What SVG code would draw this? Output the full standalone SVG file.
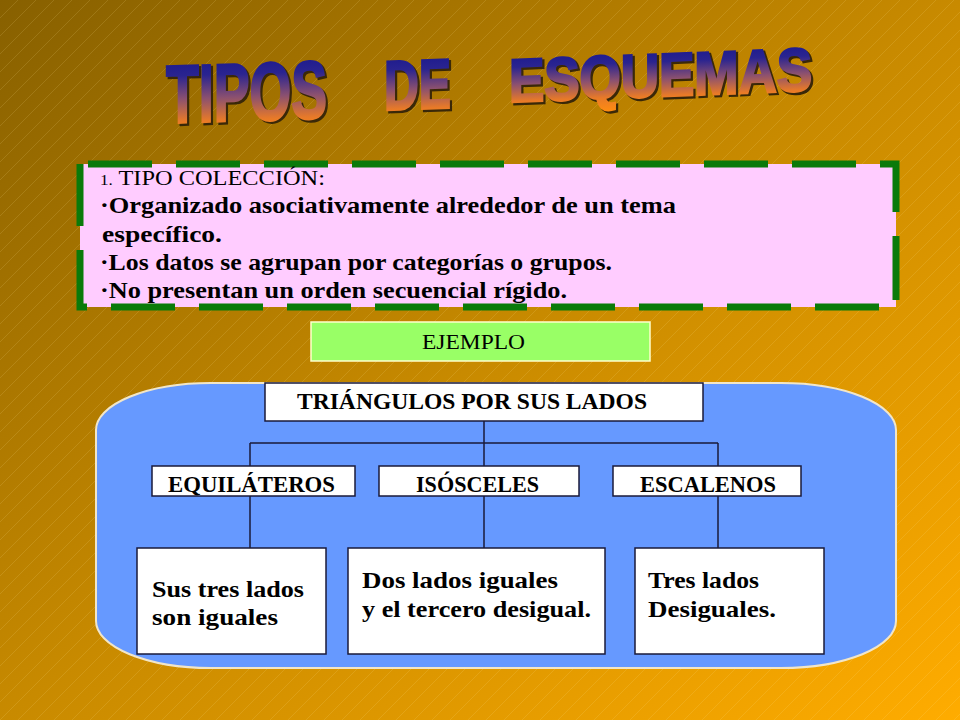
<svg xmlns="http://www.w3.org/2000/svg" width="960" height="720" viewBox="0 0 960 720">
<defs>
  <linearGradient id="bg" x1="0" y1="0" x2="1" y2="1">
    <stop offset="0" stop-color="#876000"/>
    <stop offset="0.5" stop-color="#c88a00"/>
    <stop offset="1" stop-color="#ffac00"/>
  </linearGradient>
  <pattern id="hatch" patternUnits="userSpaceOnUse" width="18" height="18">
    <path d="M0 18 L18 0 M-4 4 L4 -4 M14 22 L22 14" stroke="#ffe9a0" stroke-opacity="0.14" stroke-width="1"/>
  </pattern>
  <linearGradient id="tg" x1="0" y1="0" x2="0" y2="1">
    <stop offset="0" stop-color="#14148c"/>
    <stop offset="0.3" stop-color="#2a2490"/>
    <stop offset="0.55" stop-color="#8a5070"/>
    <stop offset="0.8" stop-color="#e87a28"/>
    <stop offset="1" stop-color="#ff8c10"/>
  </linearGradient>
  <style>
    .title{font-family:"Liberation Sans","Arial",sans-serif;font-weight:bold}
    .shadow{fill:#3a2808;stroke:#3a2808;stroke-width:3}
    .tfill{fill:url(#tg);stroke:url(#tg);stroke-width:2.5}
    .serif{font-family:"Liberation Serif","Times New Roman",serif;fill:#000}
    .b{font-weight:bold}
    .box{fill:#fff;stroke:#1a1a3a;stroke-width:1.5}
    .conn{stroke:#1a1a3a;stroke-width:1.5;fill:none}
  </style>
</defs>

<rect x="0" y="0" width="960" height="720" fill="url(#bg)"/>
<rect x="0" y="0" width="960" height="720" fill="url(#hatch)"/>

<g id="title">
  <g transform="translate(166,123) skewY(-1.8)">
    <text class="title shadow" x="2" y="2" font-size="82" textLength="161" lengthAdjust="spacingAndGlyphs">TIPOS</text>
    <text class="title tfill" x="0" y="0" font-size="82" textLength="161" lengthAdjust="spacingAndGlyphs">TIPOS</text>
  </g>
  <g transform="translate(384,110) skewY(-2)">
    <text class="title shadow" x="2" y="2" font-size="70" textLength="67" lengthAdjust="spacingAndGlyphs">DE</text>
    <text class="title tfill" x="0" y="0" font-size="70" textLength="67" lengthAdjust="spacingAndGlyphs">DE</text>
  </g>
  <g transform="translate(509,102) skewY(-2.2)">
    <text class="title shadow" x="2" y="2" font-size="61" textLength="303" lengthAdjust="spacingAndGlyphs">ESQUEMAS</text>
    <text class="title tfill" x="0" y="0" font-size="61" textLength="303" lengthAdjust="spacingAndGlyphs">ESQUEMAS</text>
  </g>
</g>

<g id="coleccion">
  <rect x="80" y="164" width="816" height="143" fill="#ffccff" stroke="#0a7a0a" stroke-width="7" stroke-dasharray="64 24" stroke-dashoffset="80"/>
  <text class="serif" x="100" y="185" font-size="20" textLength="225" lengthAdjust="spacingAndGlyphs"><tspan font-size="14">1.</tspan> TIPO COLECCIÓN:</text>
  <text class="serif b" x="100" y="213" font-size="24" textLength="576" lengthAdjust="spacingAndGlyphs">·Organizado asociativamente alrededor de un tema</text>
  <text class="serif b" x="102" y="242" font-size="24" textLength="120" lengthAdjust="spacingAndGlyphs">específico.</text>
  <text class="serif b" x="100" y="270" font-size="24" textLength="512" lengthAdjust="spacingAndGlyphs">·Los datos se agrupan por categorías o grupos.</text>
  <text class="serif b" x="100" y="298" font-size="24" textLength="467" lengthAdjust="spacingAndGlyphs">·No presentan un orden secuencial rígido.</text>
</g>

<g id="ejemplo">
  <rect x="311" y="322" width="339" height="39" fill="#99ff66" stroke="#ffffcc" stroke-width="1.5"/>
  <text class="serif" x="422" y="349" font-size="22" textLength="103" lengthAdjust="spacingAndGlyphs">EJEMPLO</text>
</g>

<g id="fondo">
  <rect x="96" y="383" width="800" height="285" rx="115" ry="47" fill="#6699ff" stroke="#f2e6c8" stroke-width="2"/>
</g>

<g id="connectors">
  <path class="conn" d="M484 421 V443 M250 443 H718 M250 443 V466 M484 443 V466 M718 443 V466 M250 496 V548 M484 496 V548 M718 496 V548"/>
</g>

<g id="triangulos">
  <rect class="box" x="265" y="383" width="438" height="38"/>
  <text class="serif b" x="297" y="409" font-size="24" textLength="350" lengthAdjust="spacingAndGlyphs">TRIÁNGULOS POR SUS LADOS</text>
</g>

<g id="equilateros">
  <rect class="box" x="152" y="466" width="203" height="30"/>
  <text class="serif b" x="168" y="492" font-size="24" textLength="167" lengthAdjust="spacingAndGlyphs">EQUILÁTEROS</text>
</g>
<g id="isosceles">
  <rect class="box" x="379" y="466" width="200" height="30"/>
  <text class="serif b" x="416" y="492" font-size="24" textLength="123" lengthAdjust="spacingAndGlyphs">ISÓSCELES</text>
</g>
<g id="escalenos">
  <rect class="box" x="613" y="466" width="188" height="30"/>
  <text class="serif b" x="640" y="492" font-size="24" textLength="136" lengthAdjust="spacingAndGlyphs">ESCALENOS</text>
</g>

<g id="def-equilateros">
  <rect class="box" x="137" y="548" width="189" height="106"/>
  <text class="serif b" x="152" y="597" font-size="23" textLength="152" lengthAdjust="spacingAndGlyphs">Sus tres lados</text>
  <text class="serif b" x="152" y="625" font-size="23" textLength="126" lengthAdjust="spacingAndGlyphs">son iguales</text>
</g>
<g id="def-isosceles">
  <rect class="box" x="348" y="548" width="257" height="106"/>
  <text class="serif b" x="362" y="588" font-size="23" textLength="196" lengthAdjust="spacingAndGlyphs">Dos lados iguales</text>
  <text class="serif b" x="362" y="617" font-size="23" textLength="229" lengthAdjust="spacingAndGlyphs">y el tercero desigual.</text>
</g>
<g id="def-escalenos">
  <rect class="box" x="635" y="548" width="189" height="106"/>
  <text class="serif b" x="648" y="588" font-size="23" textLength="111" lengthAdjust="spacingAndGlyphs">Tres lados</text>
  <text class="serif b" x="648" y="617" font-size="23" textLength="128" lengthAdjust="spacingAndGlyphs">Desiguales.</text>
</g>
</svg>
